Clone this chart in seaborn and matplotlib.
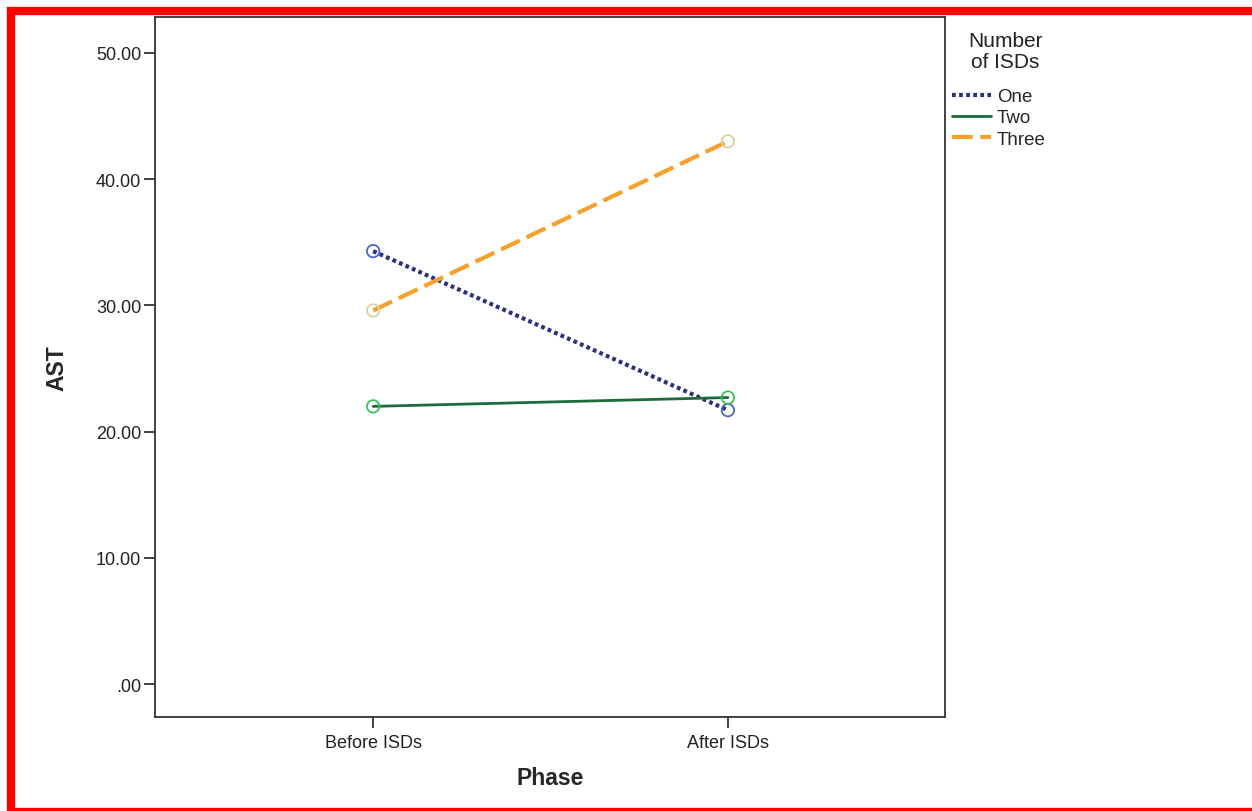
import numpy as np
import pandas as pd
import seaborn as sns
import matplotlib.pyplot as plt
from matplotlib.patches import Rectangle

# data
phases = ["Before ISDs", "After ISDs"]
groups = ["One", "Two", "Three"]
ast_one = [34.3, 21.7]
ast_two = [22.0, 22.7]
ast_three = [29.6, 43.0]
y_ticks = [0, 10, 20, 30, 40, 50]
y_tick_labels = [".00", "10.00", "20.00", "30.00", "40.00", "50.00"]

df = pd.DataFrame({
    "Phase": phases * 3,
    "AST": ast_one + ast_two + ast_three,
    "group": [g for g in groups for _ in phases],
})

line_colors = {"One": "#2b2f80", "Two": "#1d6a3a", "Three": "#f7a02a"}
marker_colors = {"One": "#4a68c4", "Two": "#3dbf5a", "Three": "#d6d2a2"}
dash_styles = {"One": (0.9, 0.8), "Two": "", "Three": (5, 1.8)}
line_widths = {"One": 3.0, "Two": 2.0, "Three": 3.0}

sns.set_style("white")
plt.rcParams["font.family"] = ["Liberation Sans", "DejaVu Sans"]

fig = plt.figure(figsize=(12.52, 8.12), dpi=100)
ax = fig.add_axes([155 / 1252, 1 - 718 / 812, 790 / 1252, 700 / 812])

sns.lineplot(data=df, x="Phase", y="AST", hue="group", style="group",
             hue_order=groups, style_order=groups, palette=line_colors,
             dashes=dash_styles, sort=False, ax=ax, zorder=2)
for line, g in zip(ax.lines[:3], groups):
    line.set_linewidth(line_widths[g])
    line.set_dash_capstyle("butt")

for g in groups:
    sub = df[df["group"] == g]
    sns.scatterplot(data=sub, x="Phase", y="AST", color=marker_colors[g],
                    s=80, ax=ax, legend=False, zorder=3)
    coll = ax.collections[-1]
    coll.set_facecolor("none")
    coll.set_edgecolor(marker_colors[g])
    coll.set_linewidth(1.3)

ax.set_xlim(-0.615, 1.612)
ax.set_ylim(-2.61, 52.85)
ax.set_yticks(y_ticks)
ax.set_yticklabels(y_tick_labels)
ax.tick_params(axis="both", direction="out", length=8, width=1.3, color="#333333",
               labelsize=13, labelcolor="#222222", left=True, bottom=True)
ax.tick_params(axis="y", pad=2)
ax.tick_params(axis="x", pad=4)
for sp in ax.spines.values():
    sp.set_color("#333333")
    sp.set_linewidth(1.3)

ax.set_xlabel("Phase", fontsize=16.5, fontweight="bold", labelpad=11)
ax.set_ylabel("AST", fontsize=16.5, fontweight="bold", labelpad=20)

handles, labels = ax.get_legend_handles_labels()
leg = ax.legend(handles[-3:], labels[-3:],
                loc="upper left", bbox_to_anchor=(952 / 1252, 1 - 89 / 812),
                bbox_transform=fig.transFigure, frameon=False, fontsize=13.5,
                handlelength=2.1, handletextpad=0.3, labelspacing=0.22,
                borderaxespad=0, borderpad=0)
for h, g in zip(leg.get_lines(), groups):
    h.set_linewidth(line_widths[g])
fig.text(1005 / 1252, 1 - 52 / 812, "Number\nof ISDs", ha="center", va="center",
         fontsize=15, color="#222222", linespacing=1.1)

# red frame around the image
fig.add_artist(Rectangle((11 / 1252, -1 / 812), 1.1, (812 - 11) / 812,
                         transform=fig.transFigure, fill=False,
                         edgecolor="#ff0000", linewidth=6))

fig.savefig("out.png", dpi=100)
